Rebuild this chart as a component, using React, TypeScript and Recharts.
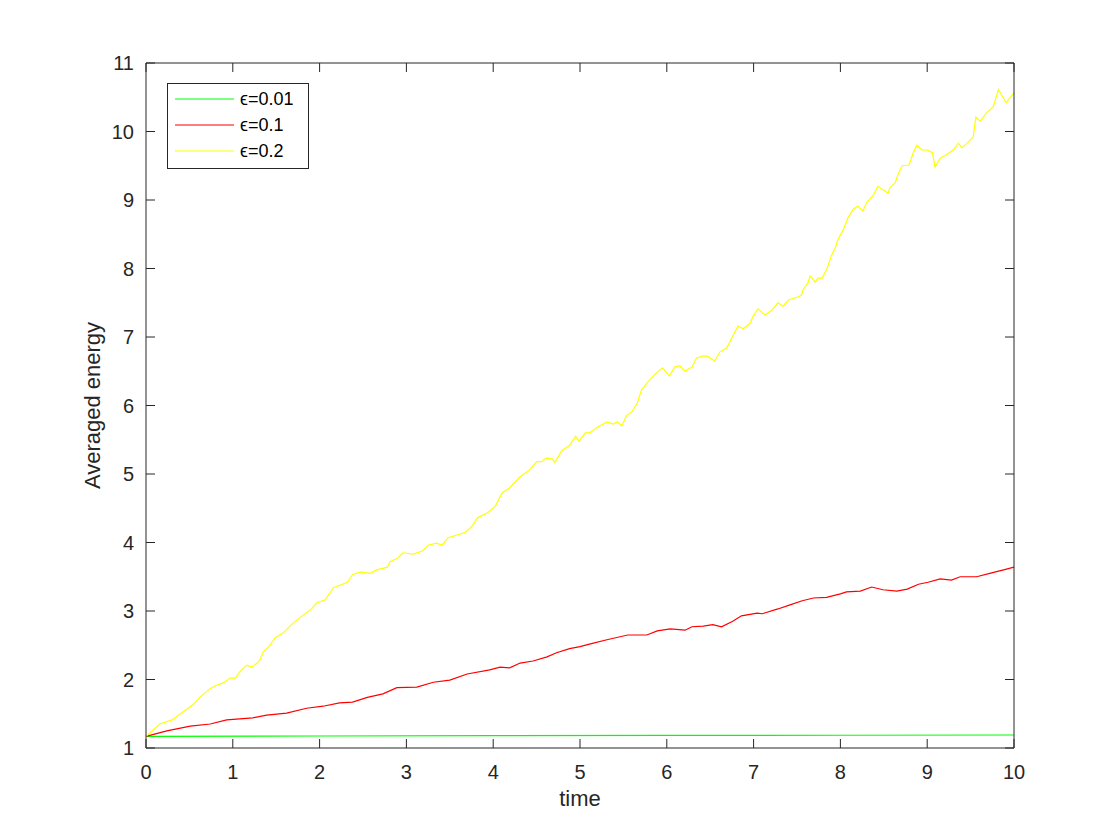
import React from 'react';
import { LineChart, Line, XAxis, YAxis, Legend } from 'recharts';

// ---- data ----
const timeTicks = [0, 1, 2, 3, 4, 5, 6, 7, 8, 9, 10];
const energyTicks = [1, 2, 3, 4, 5, 6, 7, 8, 9, 10, 11];

const seriesNames = ['\u03f5=0.01', '\u03f5=0.1', '\u03f5=0.2'];
const seriesColors = ['#00ff00', '#ff0000', '#ffff00'];

const greenT = [0, 2, 4, 6, 8, 10];
const greenV = [1.17, 1.175, 1.18, 1.183, 1.186, 1.19];

const redT = [0, 0.24, 0.51, 0.74, 0.93, 1.23, 1.39, 1.62, 1.85, 2.04, 2.23, 2.38, 2.55, 2.73, 2.89, 3.12, 3.31, 3.5, 3.7, 3.96, 4.08, 4.19, 4.31, 4.46, 4.62, 4.73, 4.88, 5.0, 5.12, 5.31, 5.55, 5.77, 5.89, 6.04, 6.21, 6.29, 6.42, 6.53, 6.63, 6.76, 6.86, 7.04, 7.1, 7.28, 7.42, 7.56, 7.69, 7.84, 8.0, 8.07, 8.23, 8.36, 8.49, 8.65, 8.77, 8.9, 9.01, 9.15, 9.28, 9.38, 9.57, 9.72, 9.88, 10];
const redV = [1.17, 1.25, 1.32, 1.35, 1.41, 1.44, 1.48, 1.51, 1.58, 1.61, 1.66, 1.67, 1.74, 1.79, 1.88, 1.89, 1.96, 1.99, 2.08, 2.14, 2.18, 2.17, 2.24, 2.27, 2.33, 2.39, 2.45, 2.48, 2.52, 2.58, 2.65, 2.65, 2.71, 2.74, 2.72, 2.77, 2.78, 2.8, 2.77, 2.85, 2.93, 2.97, 2.96, 3.03, 3.09, 3.15, 3.19, 3.2, 3.25, 3.28, 3.29, 3.35, 3.31, 3.29, 3.32, 3.39, 3.42, 3.47, 3.45, 3.5, 3.5, 3.55, 3.6, 3.64];

const yellowT = [0, 0.16, 0.3, 0.43, 0.54, 0.62, 0.74, 0.82, 0.89, 0.97, 1.03, 1.08, 1.16, 1.22, 1.28, 1.31, 1.35, 1.41, 1.49, 1.58, 1.69, 1.81, 1.89, 1.97, 2.06, 2.16, 2.24, 2.32, 2.38, 2.47, 2.58, 2.66, 2.78, 2.81, 2.9, 2.96, 3.08, 3.19, 3.25, 3.35, 3.41, 3.48, 3.58, 3.68, 3.75, 3.82, 3.93, 4.02, 4.1, 4.19, 4.31, 4.42, 4.5, 4.56, 4.61, 4.68, 4.71, 4.79, 4.88, 4.95, 4.99, 5.06, 5.11, 5.21, 5.31, 5.38, 5.43, 5.48, 5.54, 5.6, 5.66, 5.71, 5.78, 5.86, 5.95, 6.03, 6.09, 6.15, 6.21, 6.29, 6.34, 6.41, 6.47, 6.55, 6.61, 6.69, 6.75, 6.82, 6.88, 6.96, 6.99, 7.05, 7.13, 7.21, 7.28, 7.34, 7.4, 7.5, 7.55, 7.57, 7.63, 7.65, 7.71, 7.74, 7.79, 7.85, 7.89, 7.94, 7.97, 8.03, 8.09, 8.15, 8.2, 8.26, 8.3, 8.38, 8.43, 8.49, 8.55, 8.57, 8.63, 8.67, 8.71, 8.79, 8.84, 8.88, 8.94, 9.0, 9.06, 9.09, 9.15, 9.22, 9.3, 9.36, 9.4, 9.46, 9.53, 9.56, 9.61, 9.69, 9.76, 9.82, 9.91, 9.96, 10];
const yellowV = [1.17, 1.35, 1.41, 1.53, 1.63, 1.74, 1.87, 1.92, 1.95, 2.02, 2.02, 2.11, 2.21, 2.18, 2.24, 2.28, 2.4, 2.47, 2.61, 2.68, 2.82, 2.94, 3.01, 3.12, 3.16, 3.34, 3.38, 3.42, 3.53, 3.57, 3.55, 3.6, 3.64, 3.72, 3.77, 3.85, 3.83, 3.88, 3.96, 3.99, 3.96, 4.07, 4.11, 4.15, 4.23, 4.36, 4.43, 4.52, 4.72, 4.8, 4.96, 5.06, 5.18, 5.18, 5.23, 5.22, 5.17, 5.34, 5.42, 5.55, 5.48, 5.6, 5.6, 5.69, 5.76, 5.73, 5.76, 5.7, 5.86, 5.91, 6.04, 6.23, 6.34, 6.45, 6.55, 6.43, 6.56, 6.58, 6.5, 6.56, 6.69, 6.72, 6.72, 6.65, 6.78, 6.84, 6.99, 7.16, 7.12, 7.2, 7.29, 7.41, 7.32, 7.39, 7.5, 7.45, 7.54, 7.58, 7.61, 7.69, 7.8, 7.89, 7.8, 7.86, 7.86, 8.01, 8.17, 8.3, 8.42, 8.56, 8.75, 8.87, 8.91, 8.84, 8.96, 9.07, 9.2, 9.15, 9.1, 9.18, 9.25, 9.39, 9.5, 9.51, 9.69, 9.8, 9.73, 9.73, 9.69, 9.48, 9.61, 9.66, 9.73, 9.83, 9.76, 9.83, 9.92, 10.21, 10.15, 10.28, 10.36, 10.61, 10.42, 10.5, 10.56];

const toRows = (ts: number[], vs: number[]) => ts.map((t, i) => ({ t, v: vs[i] }));
const greenData = toRows(greenT, greenV);
const redData = toRows(redT, redV);
const yellowData = toRows(yellowT, yellowV);

// ---- styling ----
const FONT = '"Liberation Sans", Arial, Helvetica, sans-serif';
const INK = '#262626';
const TICK_LEN = 9;

const BottomTick = (props: any) => {
  const { x, y, payload } = props;
  return (
    <g>
      <line x1={x} y1={y} x2={x} y2={y - TICK_LEN} stroke={INK} strokeWidth={1} />
      <text x={x} y={y + 24} textAnchor="middle" dominantBaseline="central" fontSize={20} fontFamily={FONT} fill={INK}>
        {payload.value}
      </text>
    </g>
  );
};

const LeftTick = (props: any) => {
  const { x, y, payload } = props;
  return (
    <g>
      <line x1={x} y1={y} x2={x + TICK_LEN} y2={y} stroke={INK} strokeWidth={1} />
      <text x={x - 12} y={y} textAnchor="end" dominantBaseline="central" fontSize={20} fontFamily={FONT} fill={INK}>
        {payload.value}
      </text>
    </g>
  );
};

const TopTick = (props: any) => {
  const { x, y } = props;
  return <line x1={x} y1={y} x2={x} y2={y + TICK_LEN} stroke={INK} strokeWidth={1} />;
};

const RightTick = (props: any) => {
  const { x, y } = props;
  return <line x1={x} y1={y} x2={x - TICK_LEN} y2={y} stroke={INK} strokeWidth={1} />;
};

const XLabel = (props: any) => {
  const { viewBox } = props;
  return (
    <text x={viewBox.x + viewBox.width / 2} y={viewBox.y + 58} textAnchor="middle" fontSize={22} fontFamily={FONT} fill={INK}>
      time
    </text>
  );
};

const YLabel = (props: any) => {
  const { viewBox } = props;
  const cx = 84;
  const cy = viewBox.y + viewBox.height / 2;
  return (
    <text x={cx} y={cy} transform={`rotate(-90 ${cx} ${cy})`} textAnchor="middle" dominantBaseline="central" fontSize={22} fontFamily={FONT} fill={INK}>
      Averaged energy
    </text>
  );
};

const LegendBox = (props: any) => {
  const items = (props.payload || []) as any[];
  return (
    <svg width={142} height={86} style={{ display: 'block' }}>
      <rect x={0.5} y={0.5} width={141} height={85} fill="#ffffff" stroke={INK} strokeWidth={1} />
      {items.map((it, i) => (
        <g key={i}>
          <line x1={8} x2={67} y1={16 + i * 26} y2={16 + i * 26} stroke={it.color} strokeWidth={1.2} />
          <text x={73} y={16 + i * 26} dominantBaseline="central" fontSize={18} fontFamily={FONT} fill="#000">
            {it.value}
          </text>
        </g>
      ))}
    </svg>
  );
};

export default function App() {
  return (
    <LineChart width={1104} height={824} margin={{ top: 54, right: 97, bottom: 24, left: 0 }} style={{ background: '#fff' }}>
      <XAxis
        xAxisId="main"
        dataKey="t"
        type="number"
        domain={[0, 10]}
        ticks={timeTicks}
        allowDuplicatedCategory={false}
        height={60}
        tickSize={0}
        tickMargin={0}
        tickLine={false}
        axisLine={{ stroke: INK, strokeWidth: 1 }}
        tick={<BottomTick />}
        label={<XLabel />}
        interval={0}
      />
      <XAxis
        xAxisId="top"
        orientation="top"
        dataKey="t"
        type="number"
        domain={[0, 10]}
        ticks={timeTicks}
        allowDuplicatedCategory={false}
        height={1}
        tickSize={0}
        tickMargin={0}
        tickLine={false}
        axisLine={{ stroke: INK, strokeWidth: 1 }}
        tick={<TopTick />}
        interval={0}
      />
      <YAxis
        yAxisId="main"
        type="number"
        domain={[1, 11]}
        ticks={energyTicks}
        width={138}
        tickSize={0}
        tickMargin={0}
        tickLine={false}
        axisLine={{ stroke: INK, strokeWidth: 1 }}
        tick={<LeftTick />}
        label={<YLabel />}
        interval={0}
      />
      <YAxis
        yAxisId="right"
        orientation="right"
        type="number"
        domain={[1, 11]}
        ticks={energyTicks}
        width={1}
        tickSize={0}
        tickMargin={0}
        tickLine={false}
        axisLine={{ stroke: INK, strokeWidth: 1 }}
        tick={<RightTick />}
        interval={0}
      />
      <Legend
        layout="vertical"
        align="center"
        verticalAlign="middle"
        wrapperStyle={{ left: 159, top: 75, width: 142, height: 86 }}
        content={<LegendBox />}
      />
      <Line xAxisId="main" yAxisId="main" data={greenData} dataKey="v" name={seriesNames[0]} stroke={seriesColors[0]} strokeWidth={1.2} dot={false} activeDot={false} isAnimationActive={false} type="linear" />
      <Line xAxisId="main" yAxisId="main" data={redData} dataKey="v" name={seriesNames[1]} stroke={seriesColors[1]} strokeWidth={1.2} dot={false} activeDot={false} isAnimationActive={false} type="linear" />
      <Line xAxisId="top" yAxisId="right" data={yellowData} dataKey="v" name={seriesNames[2]} stroke={seriesColors[2]} strokeWidth={1.2} dot={false} activeDot={false} isAnimationActive={false} type="linear" />
    </LineChart>
  );
}
